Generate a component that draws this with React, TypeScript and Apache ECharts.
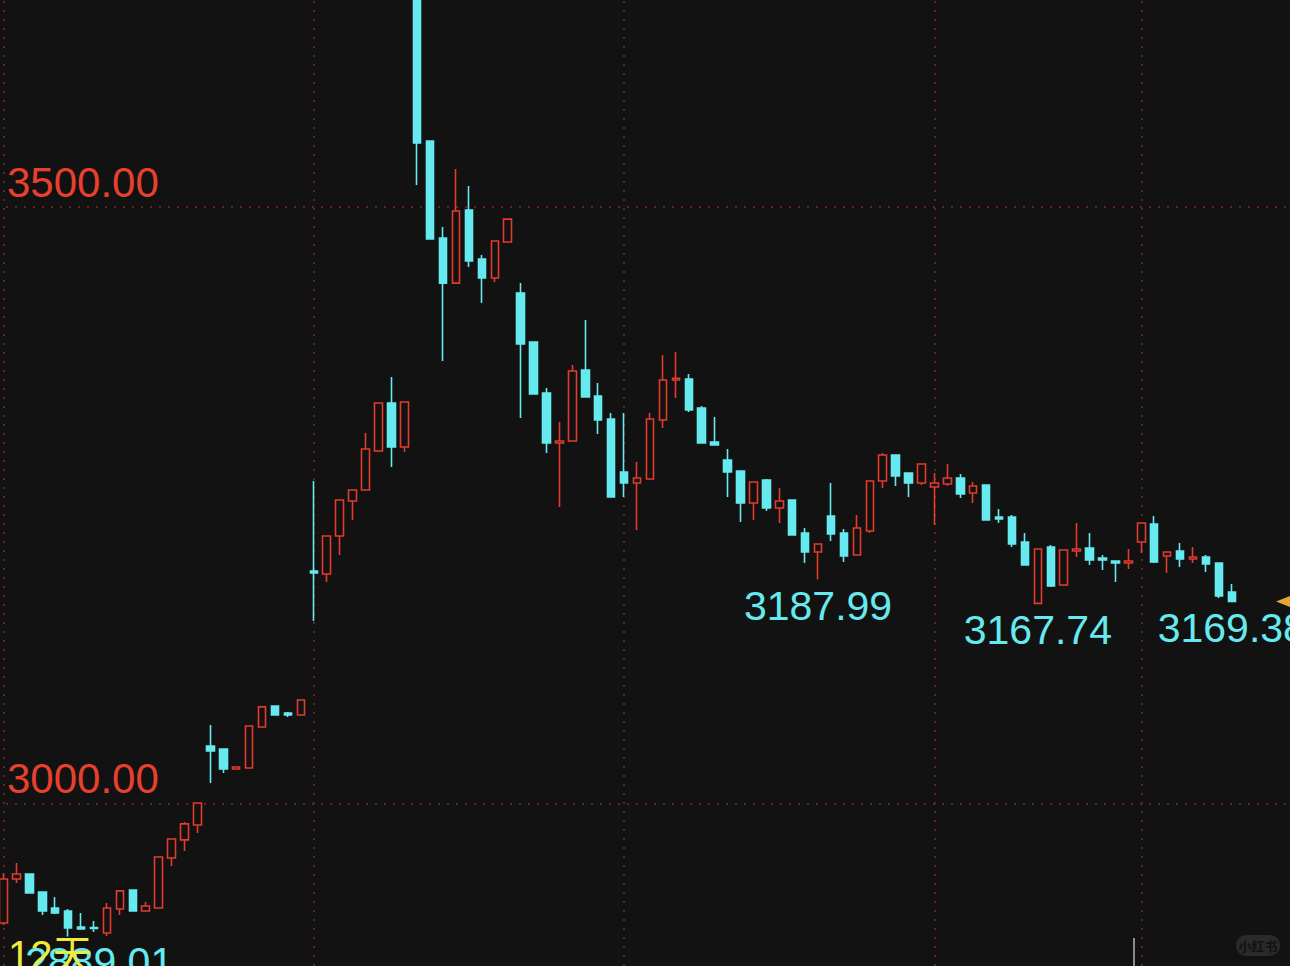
import React, { useEffect, useRef } from "react";
import * as echarts from "echarts";

const categories: string[] = Array.from({ length: 100 }, (_, i) => String(i + 1));

const opens = [
  2900.3, 2937.2, 2941.4, 2926.3, 2912.9, 2910.4, 2897.0, 2896.6, 2891.9, 2912.1,
  2928.0, 2910.4, 2912.9, 2954.8, 2969.9, 2982.4, 3048.6, 3046.1, 3029.3, 3030.2,
  3064.5, 3082.1, 3076.2, 3074.5, 3195.2, 3192.6, 3224.5, 3253.8, 3263.0, 3295.6,
  3335.8, 3299.0, 3698.5, 3555.3, 3474.0, 3436.3, 3497.5, 3456.4, 3440.5, 3470.7,
  3428.0, 3386.9, 3344.2, 3302.4, 3304.0, 3363.5, 3341.7, 3322.4, 3278.1, 3268.8,
  3272.2, 3321.6, 3355.1, 3355.9, 3331.7, 3303.2, 3288.1, 3278.9, 3252.1, 3271.4,
  3247.9, 3254.6, 3227.0, 3211.1, 3241.2, 3227.0, 3208.5, 3228.7, 3270.5, 3292.3,
  3277.2, 3268.8, 3265.5, 3268.0, 3273.0, 3260.5, 3267.2, 3240.4, 3240.4, 3219.4,
  3168.0, 3215.3, 3183.4, 3211.9, 3214.4, 3206.0, 3203.5, 3201.8, 3219.4, 3234.5,
  3207.7, 3211.9, 3205.2, 3206.9, 3201.8, 3177.6,
];

const closes = [
  2937.2, 2941.4, 2925.5, 2910.4, 2908.7, 2896.2, 2895.3, 2895.7, 2912.9, 2927.2,
  2910.4, 2914.6, 2955.6, 2970.7, 2983.3, 3000.8, 3044.4, 3029.3, 3031.0, 3065.3,
  3081.3, 3074.5, 3074.5, 3087.1, 3193.5, 3224.5, 3254.6, 3263.0, 3297.3, 3335.8,
  3299.0, 3336.7, 3553.6, 3473.2, 3436.3, 3496.7, 3454.8, 3440.5, 3471.5, 3489.9,
  3385.3, 3343.4, 3302.4, 3304.0, 3362.6, 3340.9, 3321.6, 3257.1, 3268.8, 3273.0,
  3322.4, 3355.1, 3356.6, 3330.0, 3302.4, 3300.7, 3278.1, 3252.1, 3269.7, 3247.9,
  3253.8, 3225.3, 3211.1, 3217.8, 3226.1, 3207.7, 3231.2, 3270.5, 3292.3, 3274.7,
  3268.8, 3284.8, 3268.8, 3273.0, 3259.6, 3266.3, 3237.9, 3238.7, 3217.8, 3200.2,
  3213.6, 3182.6, 3212.7, 3213.6, 3204.4, 3204.4, 3201.8, 3203.5, 3235.4, 3202.7,
  3211.1, 3205.2, 3206.9, 3201.0, 3174.2, 3169.6,
];

const lows = [
  2898.7, 2933.9, 2925.0, 2907.0, 2907.9, 2889.01, 2895.0, 2892.8, 2889.5, 2907.0,
  2910.0, 2910.0, 2912.5, 2948.1, 2960.6, 2975.7, 3017.6, 3026.0, 3029.0, 3029.9,
  3064.2, 3074.2, 3072.9, 3074.2, 3153.3, 3185.9, 3208.5, 3237.9, 3262.7, 3295.3,
  3282.3, 3294.8, 3518.4, 3472.9, 3371.0, 3436.0, 3449.8, 3419.6, 3437.2, 3470.4,
  3323.3, 3343.1, 3294.0, 3248.8, 3303.7, 3340.6, 3309.9, 3256.8, 3257.1, 3229.5,
  3271.9, 3314.9, 3340.0, 3328.3, 3302.1, 3300.4, 3257.1, 3236.2, 3237.9, 3245.4,
  3235.4, 3225.0, 3201.8, 3187.99, 3220.3, 3202.7, 3208.2, 3227.0, 3264.7, 3266.3,
  3257.1, 3267.2, 3233.7, 3266.3, 3256.3, 3252.1, 3237.6, 3235.4, 3215.3, 3199.9,
  3167.74, 3181.8, 3183.1, 3206.9, 3200.2, 3196.0, 3185.9, 3196.8, 3210.2, 3201.8,
  3193.5, 3198.5, 3201.8, 3194.3, 3172.5, 3169.38,
];

const highs = [
  2942.2, 2950.6, 2941.8, 2926.6, 2922.1, 2912.1, 2908.7, 2902.0, 2917.1, 2927.5,
  2928.3, 2917.9, 2956.0, 2971.0, 2984.9, 3001.2, 3066.2, 3046.4, 3031.3, 3065.6,
  3081.6, 3082.4, 3077.1, 3087.4, 3270.5, 3224.8, 3254.9, 3263.3, 3310.7, 3336.1,
  3357.6, 3337.0, 3706.9, 3555.6, 3483.3, 3531.8, 3517.6, 3459.8, 3471.8, 3490.2,
  3436.3, 3387.2, 3348.4, 3319.9, 3367.7, 3405.4, 3352.6, 3327.5, 3327.5, 3286.4,
  3327.5, 3376.0, 3378.6, 3360.1, 3333.3, 3324.1, 3297.3, 3279.2, 3270.0, 3272.2,
  3264.7, 3254.9, 3231.2, 3218.1, 3268.8, 3230.3, 3242.0, 3270.8, 3294.0, 3292.6,
  3277.5, 3285.1, 3277.2, 3284.8, 3276.4, 3269.7, 3267.5, 3247.1, 3242.0, 3227.0,
  3213.9, 3216.9, 3213.0, 3235.4, 3227.0, 3208.5, 3203.8, 3213.6, 3235.7, 3241.2,
  3211.4, 3218.6, 3215.3, 3208.5, 3202.1, 3184.3,
];

// annotated lows: [candle index, value]
const lowMarks: [number, number][] = [
  [63, 3187.99],
  [80, 3167.74],
  [95, 3169.38],
];
const edgeLowMark: [number, number] = [5, 2889.01];
const dayCountLabel = "12天";
const periodSeparators = [0, 24, 48, 72, 88];
const priceLevels = [3000, 3500];
const yRange = { min: 2864.3, max: 3673.4 };

const BG = "#121212";
const RED = "#e33b2d";
const LABEL_RED = "#e8402f";
const CYAN = "#66eaf0";
const GRID = "#6a2121";
const FONT = "Liberation Sans, Arial, Noto Sans CJK SC, sans-serif";
const DX = 3; // container is shifted 3px left of the page

export default function App() {
  const ref = useRef<HTMLDivElement>(null);

  useEffect(() => {
    if (!ref.current) return;
    const chart = echarts.init(ref.current, undefined, { renderer: "svg" });
    const data = opens.map((o, i) => [o, closes[i], lows[i], highs[i]]);
    const lastClose = closes[closes.length - 1];
    const dotted = { color: GRID, width: 2, type: [2, 7] };

    chart.setOption({
      animation: false,
      backgroundColor: BG,
      grid: { left: 0, right: 0, top: 0, bottom: 0 },
      xAxis: {
        type: "category",
        data: categories,
        boundaryGap: true,
        axisLine: { show: false },
        axisTick: { show: false },
        axisLabel: { show: false },
        splitLine: { show: false },
      },
      yAxis: {
        type: "value",
        min: yRange.min,
        max: yRange.max,
        axisLine: { show: false },
        axisTick: { show: false },
        axisLabel: { show: false },
        splitLine: { show: false },
      },
      series: [
        {
          type: "line",
          data: [],
          z: 1,
          silent: true,
          markLine: {
            z: 1,
            silent: true,
            symbol: "none",
            lineStyle: dotted,
            label: { show: false },
            data: [
              ...periodSeparators.map((i) => ({ xAxis: i, label: { show: false } })),
              ...priceLevels.map((v) => ({
                yAxis: v,
                label: {
                  show: true,
                  position: "insideStartTop",
                  distance: [10, 4],
                  color: LABEL_RED,
                  fontSize: 42,
                  fontFamily: FONT,
                  formatter: (p: any) => Number(p.value).toFixed(2),
                },
              })),
            ],
          },
        },
        {
          type: "candlestick",
          z: 3,
          data,
          barWidth: 8,
          clip: true,
          itemStyle: {
            color: BG,
            color0: CYAN,
            borderColor: RED,
            borderColor0: CYAN,
            borderWidth: 1.6,
          },
          markPoint: {
            silent: true,
            data: [
              ...lowMarks.map(([i, v]) => ({
                coord: [i, v],
                value: v,
                symbol: "circle",
                symbolSize: 1,
                itemStyle: { color: "rgba(0,0,0,0)" },
                label: {
                  show: true,
                  position: "bottom",
                  distance: 5,
                  color: CYAN,
                  fontSize: 41,
                  fontFamily: FONT,
                  formatter: (p: any) => Number(p.value).toFixed(2),
                },
              })),
              {
                coord: [edgeLowMark[0], edgeLowMark[1]],
                value: edgeLowMark[1],
                symbol: "circle",
                symbolSize: 1,
                itemStyle: { color: "rgba(0,0,0,0)" },
                label: {
                  show: true,
                  position: "bottom",
                  distance: 5,
                  offset: [31, 0],
                  color: CYAN,
                  fontSize: 41,
                  fontFamily: FONT,
                  formatter: (p: any) => Number(p.value).toFixed(2),
                },
              },
              {
                coord: [99, lastClose],
                value: lastClose,
                symbol: "triangle",
                symbolSize: [12, 15],
                symbolRotate: 90,
                itemStyle: { color: "#e6a631" },
                label: { show: false },
              },
            ],
          },
        },
      ],
      graphic: [
        {
          type: "text",
          z: 100,
          left: 8 + DX,
          top: 935,
          style: {
            text: dayCountLabel,
            fill: "#f0ea3c",
            fontSize: 40,
            fontFamily: FONT,
          },
        },
        {
          type: "line",
          z: 100,
          shape: { x1: 1134 + DX, y1: 938, x2: 1134 + DX, y2: 966 },
          style: { stroke: "#8a8a8a", lineWidth: 2 },
        },
        {
          type: "rect",
          z: 100,
          shape: { x: 1236 + DX, y: 935, width: 44, height: 21, r: 10 },
          style: { fill: "#2a2a2a" },
        },
        {
          type: "text",
          z: 101,
          x: 1258 + DX,
          y: 945.5,
          style: {
            text: "小红书",
            fill: "#121212",
            fontSize: 13,
            fontWeight: "bold",
            fontFamily: "Noto Sans CJK SC, sans-serif",
            align: "center",
            verticalAlign: "middle",
          },
        },
      ],
    });

    return () => chart.dispose();
  }, []);

  return (
    <div
      ref={ref}
      style={{ position: "fixed", left: -DX, top: 0, width: 1290 + DX, height: 966 }}
    />
  );
}
